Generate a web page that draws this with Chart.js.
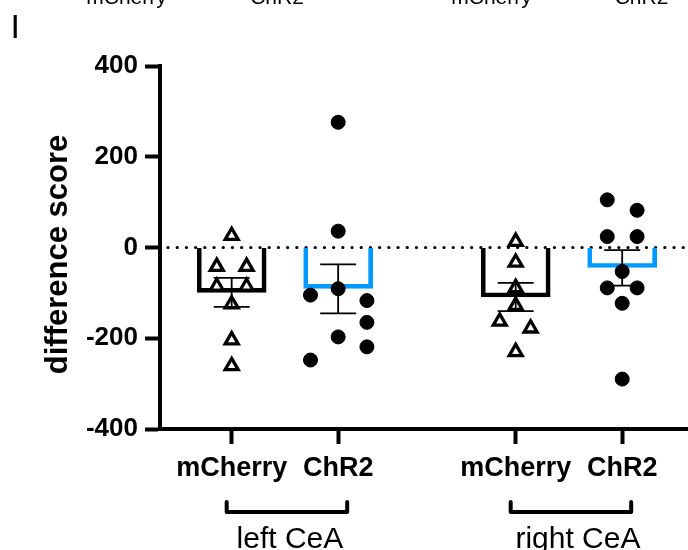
<!DOCTYPE html>
<html><head><meta charset="utf-8">
<script src="https://cdn.jsdelivr.net/npm/chart.js@4.4.1/dist/chart.umd.min.js"></script>
<style>html,body{margin:0;padding:0;background:#fff;overflow:hidden;} #wrap{width:688px;height:550px;position:relative;} canvas{display:block;}</style>
</head><body><div id="wrap"><canvas id="c"></canvas></div>
<script>
// ---- data ----
const categories = ['mCherry', 'ChR2', 'mCherry', 'ChR2'];
const groupLabels = ['left CeA', 'right CeA'];
const yTickValues = [-400, -200, 0, 200, 400];
const yTitle = 'difference score';
const panelLetter = 'I';
const prevPanelLabels = ['mCherry', 'ChR2', 'mCherry', 'ChR2'];
const barMeans = [-99, -90, -109, -44];
const errMeans = [-99, -91, -109, -45];
const errSem = [32, 54, 31, 39];
const leftMCherry = [26, -42, -42, -86, -86, -125, -204, -261];
const leftChR2 = [276, 36, -91, -105, -117, -165, -197, -219, -248];
const rightMCherry = [13, -33, -89, -128, -163, -178, -230];
const rightChR2 = [105, 82, 24, 24, -53, -89, -89, -123, -290];

// ---- layout (positions, not data) ----
const xPos = [1, 2, 3.667, 4.667];
const X_MIN = 0.327, X_MAX = 5.285;
const jitLM = [0, -0.14, 0.14, -0.14, 0.14, 0, 0, 0];
const jitLC = [0, 0, 0, -0.26, 0.27, 0.27, 0, 0.27, -0.26];
const jitRM = [0, 0, 0, 0, -0.15, 0.14, 0];
const jitRC = [-0.14, 0.14, -0.14, 0.14, 0, -0.14, 0.14, 0, 0];
const prevLabelX = [126.5, 277, 491.5, 641.5];
const BLUE = '#0099ff';
const FONT = "'Liberation Sans', Arial, Helvetica, sans-serif";

function pts(vals, jit, cx) { return vals.map((v, i) => ({x: cx + jit[i], y: v})); }

const extras = {
  id: 'extras',
  afterDatasetsDraw(chart) {
    const ctx = chart.ctx, xs = chart.scales.x, ys = chart.scales.y;
    ctx.save();
    ctx.strokeStyle = '#000';
    ctx.lineWidth = 1.8;
    for (let i = 0; i < xPos.length; i++) {
      const x = xs.getPixelForValue(xPos[i]);
      const yt = ys.getPixelForValue(errMeans[i] + errSem[i]);
      const yb = ys.getPixelForValue(errMeans[i] - errSem[i]);
      ctx.beginPath();
      ctx.moveTo(x, yt); ctx.lineTo(x, yb);
      ctx.moveTo(x - 18, yt); ctx.lineTo(x + 18, yt);
      ctx.moveTo(x - 18, yb); ctx.lineTo(x + 18, yb);
      ctx.stroke();
    }
    ctx.restore();
  },
  afterDraw(chart) {
    const ctx = chart.ctx, xs = chart.scales.x, ys = chart.scales.y, ca = chart.chartArea;
    ctx.save();
    ctx.fillStyle = '#000';
    // y title
    ctx.save();
    ctx.translate(66.5, (ca.top + ca.bottom) / 2 + 7);
    ctx.rotate(-Math.PI / 2);
    ctx.font = 'bold 31px ' + FONT;
    ctx.textAlign = 'center';
    ctx.textBaseline = 'alphabetic';
    ctx.fillText(yTitle, 0, 0);
    ctx.restore();
    // group brackets & labels
    ctx.strokeStyle = '#000';
    ctx.lineWidth = 4;
    ctx.lineCap = 'round';
    ctx.lineJoin = 'round';
    ctx.font = '30px ' + FONT;
    ctx.textAlign = 'center';
    ctx.textBaseline = 'alphabetic';
    for (let g = 0; g < 2; g++) {
      const x1 = xs.getPixelForValue(xPos[2 * g]) - 5;
      const x2 = xs.getPixelForValue(xPos[2 * g + 1]) + 9;
      ctx.beginPath();
      ctx.moveTo(x1, 502); ctx.lineTo(x1, 512); ctx.lineTo(x2, 512); ctx.lineTo(x2, 502);
      ctx.stroke();
      ctx.fillText(groupLabels[g], (x1 + x2) / 2 + 3 + g * 4, 548);
    }
    // panel letter
    ctx.textAlign = 'left';
    ctx.font = '34px ' + FONT;
    ctx.fillText(panelLetter, 10.5, 37.5);
    // cut-off labels of the panel above
    ctx.textAlign = 'center';
    ctx.font = '21px ' + FONT;
    prevPanelLabels.forEach((t, i) => ctx.fillText(t, prevLabelX[i], 4));
    ctx.restore();
  }
};

new Chart(document.getElementById('c'), {
  type: 'bar',
  data: {
    datasets: [
      {
        type: 'scatter', data: pts(leftMCherry, jitLM, xPos[0]), pointStyle: 'triangle',
        pointRadius: 7.5, pointBorderWidth: 3.3, pointBackgroundColor: '#fff', pointBorderColor: '#000', order: 1
      },
      {
        type: 'scatter', data: pts(leftChR2, jitLC, xPos[1]), pointStyle: 'circle',
        pointRadius: 7, pointBorderWidth: 1, pointBackgroundColor: '#000', pointBorderColor: '#000', order: 1
      },
      {
        type: 'scatter', data: pts(rightMCherry, jitRM, xPos[2]), pointStyle: 'triangle',
        pointRadius: 7.5, pointBorderWidth: 3.3, pointBackgroundColor: '#fff', pointBorderColor: '#000', order: 1
      },
      {
        type: 'scatter', data: pts(rightChR2, jitRC, xPos[3]), pointStyle: 'circle',
        pointRadius: 7, pointBorderWidth: 1, pointBackgroundColor: '#000', pointBorderColor: '#000', order: 1
      },
      {
        type: 'bar', data: xPos.map((x, i) => ({x: x, y: barMeans[i]})),
        backgroundColor: 'rgba(0,0,0,0)', borderColor: ['#000', BLUE, '#000', BLUE],
        borderWidth: 4, borderSkipped: 'start', barThickness: 69, order: 2
      },
      {
        type: 'line', data: [{x: X_MIN + 0.075, y: 0}, {x: X_MAX, y: 0}],
        borderColor: '#000', borderWidth: 3.2, borderDash: [0.1, 9.1], borderCapStyle: 'round',
        pointRadius: 0, fill: false, order: 3
      }
    ]
  },
  options: {
    responsive: true, maintainAspectRatio: false, animation: false,
    layout: {autoPadding: false, padding: {top: 66, left: 0, right: 0, bottom: 0}},
    plugins: {legend: {display: false}, tooltip: {enabled: false}},
    scales: {
      x: {
        type: 'linear', min: X_MIN, max: X_MAX, offset: false,
        afterBuildTicks: s => { s.ticks = xPos.map(v => ({value: v})); },
        afterFit: s => { s.height = 121; },
        ticks: {
          callback: (v, i) => categories[i], autoSkip: false, maxRotation: 0,
          font: {family: FONT, size: 27, weight: 'bold'}, color: '#000', padding: 8
        },
        grid: {offset: false, drawOnChartArea: false, drawTicks: true, tickLength: 15, tickWidth: 4, tickColor: '#000'},
        border: {display: true, color: '#000', width: 4}
      },
      y: {
        min: -400, max: 400,
        afterBuildTicks: s => { s.ticks = yTickValues.map(v => ({value: v})); },
        afterFit: s => { s.width = 160; },
        ticks: {font: {family: FONT, size: 26, weight: 'bold'}, color: '#000', padding: 7},
        grid: {drawOnChartArea: false, drawTicks: true, tickLength: 15, tickWidth: 4, tickColor: '#000'},
        border: {display: true, color: '#000', width: 4}
      }
    }
  },
  plugins: [extras]
});
</script>
</body></html>
